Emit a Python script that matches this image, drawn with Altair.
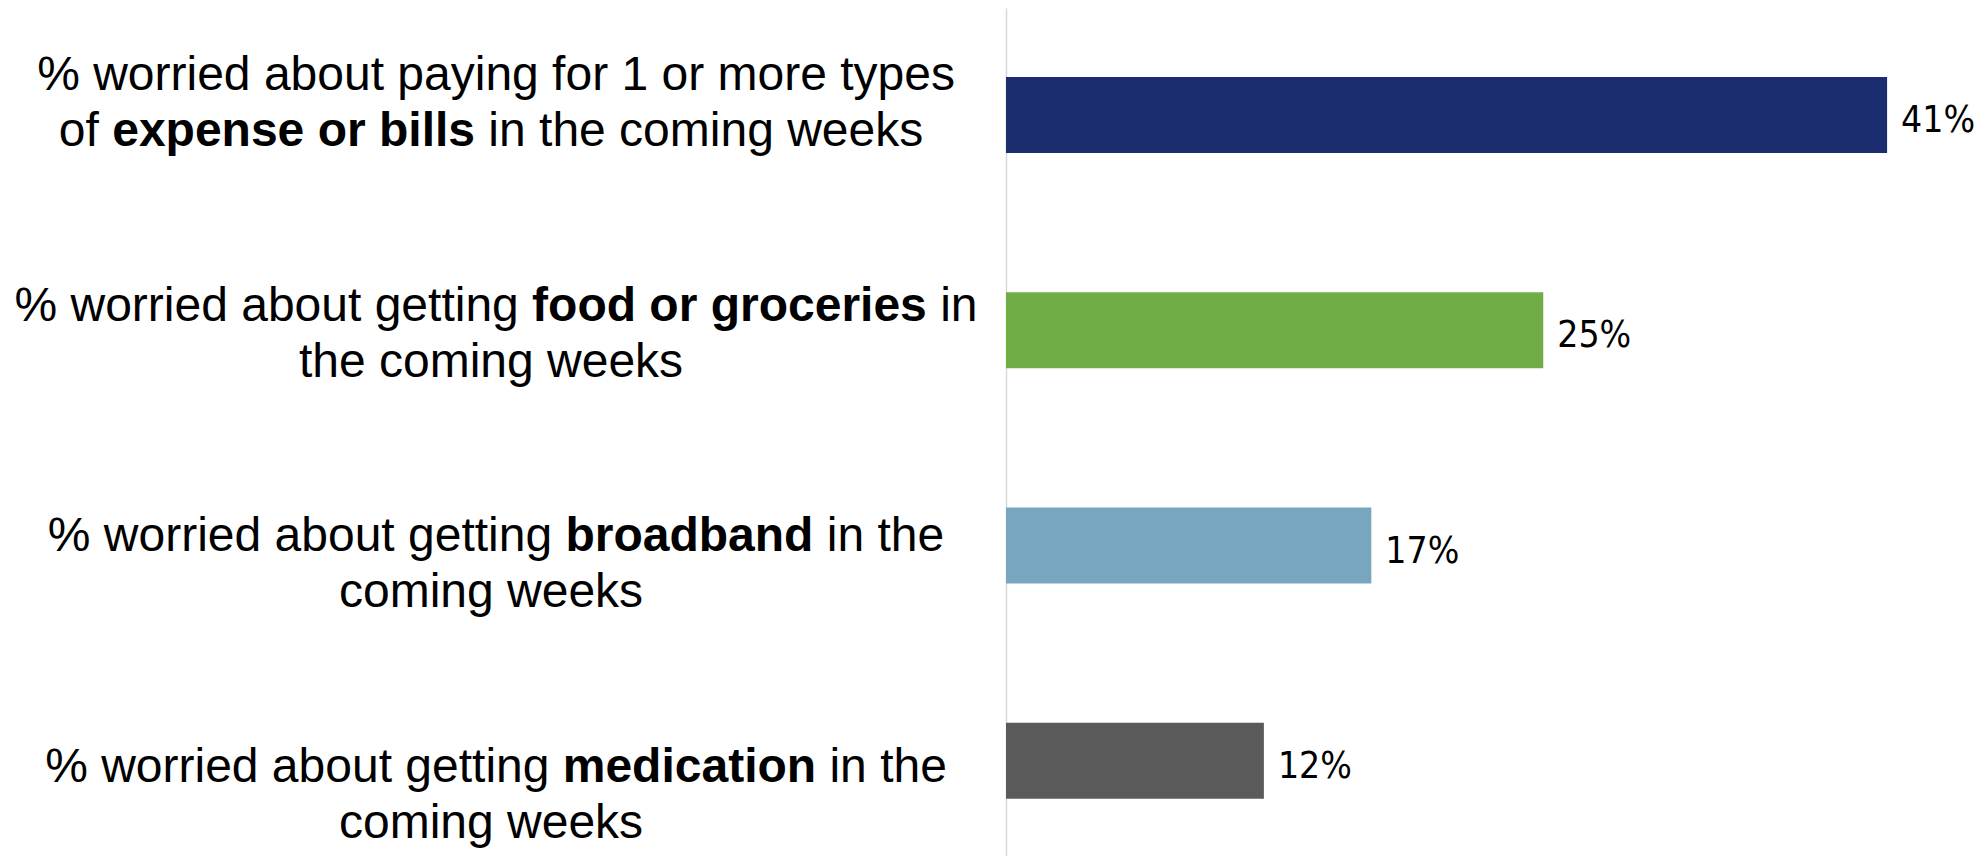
import altair as alt
import pandas as pd

# ---------------- data ----------------
CATEGORIES = ["Expense or bills", "Food or groceries", "Broadband", "Medication"]
VALUES = [41, 25, 17, 12]
BAR_COLORS = ["#1B2C6F", "#71AD47", "#79A6BF", "#5A5A5B"]
LABEL_LINES = [
    [[("% worried about paying for 1 or more types", False)],
     [("of ", False), ("expense or bills", True), (" in the coming weeks", False)]],
    [[("% worried about getting ", False), ("food or groceries", True), (" in", False)],
     [("the coming weeks", False)]],
    [[("% worried about getting ", False), ("broadband", True), (" in the", False)],
     [("coming weeks", False)]],
    [[("% worried about getting ", False), ("medication", True), (" in the", False)],
     [("coming weeks", False)]],
]

# ---------------- layout ----------------
LEFT_W = 998
RIGHT_W = 968
H = 848
LABEL_FONT = "Liberation Sans, Arial, Helvetica, sans-serif"
LABEL_SIZE = 48
LINE_GAP = 56
LINE_CENTERS = [488, 483]
PX_PER_UNIT = 21.49

# Arial / Liberation Sans advance widths (per 1000 em)
REG = {" ": 278, "%": 889, "1": 556, "a": 556, "b": 556, "c": 500, "d": 556, "e": 556,
       "f": 278, "g": 556, "h": 556, "i": 222, "k": 500, "l": 222, "m": 833, "n": 556,
       "o": 556, "p": 556, "r": 333, "s": 500, "t": 278, "u": 556, "w": 722, "y": 500,
       "x": 500}
BOLD = {" ": 278, "a": 556, "b": 611, "c": 556, "d": 611, "e": 556, "f": 333, "g": 611,
        "i": 278, "l": 278, "m": 889, "n": 611, "o": 611, "p": 611, "r": 389, "s": 556,
        "t": 333, "x": 556}


def seg_width(text, bold):
    table = BOLD if bold else REG
    return sum(table.get(ch, 556) for ch in text) * LABEL_SIZE / 1000.0


rows = []
for cat, lines in zip(CATEGORIES, LABEL_LINES):
    for li, segs in enumerate(lines):
        total = sum(seg_width(t, b) for t, b in segs)
        x = LINE_CENTERS[li] - total / 2.0
        for t, b in segs:
            lead = len(t) - len(t.lstrip(" "))
            shown = t.strip(" ")
            rows.append({"cat": cat, "line": li, "text": shown, "bold": b,
                         "px": x + seg_width(" " * lead, b)})
            x += seg_width(t, b)
seg_df = pd.DataFrame(rows)

bar_df = pd.DataFrame({"cat": CATEGORIES, "value": VALUES})
bar_df["label"] = [f"{v}%" for v in VALUES]

# ---------------- left panel: labels ----------------
label_y = alt.Y("cat:N", scale=alt.Scale(type="point", domain=CATEGORIES,
                                         padding=0.3379, align=0.526), axis=None)
label_x = alt.X("px:Q", scale=alt.Scale(domain=[0, LEFT_W], nice=False, zero=False),
                axis=None)

layers = []
for li in (0, 1):
    for b in (False, True):
        sub = seg_df[(seg_df["line"] == li) & (seg_df["bold"] == b)]
        if len(sub) == 0:
            continue
        layers.append(
            alt.Chart(sub).mark_text(
                align="left", baseline="alphabetic", font=LABEL_FONT,
                fontSize=LABEL_SIZE, fontWeight="bold" if b else "normal",
                color="#000000", dy=LINE_GAP * li
            ).encode(x=label_x, y=label_y, text="text:N")
        )
left = alt.layer(*layers).properties(width=LEFT_W, height=H)

# ---------------- right panel: bars ----------------
bar_y = alt.Y("cat:N", sort=CATEGORIES,
              scale=alt.Scale(domain=CATEGORIES, paddingInner=0.647,
                              paddingOuter=0.2929, align=0.547),
              axis=alt.Axis(labels=False, ticks=False, title=None, grid=False,
                            domainColor="#D9D9D9", domainWidth=1.5))
bar_x = alt.X("value:Q", scale=alt.Scale(domain=[0, RIGHT_W / PX_PER_UNIT], nice=False),
              axis=None)

bars = alt.Chart(bar_df).mark_bar().encode(
    x=bar_x, y=bar_y,
    color=alt.Color("cat:N", scale=alt.Scale(domain=CATEGORIES, range=BAR_COLORS),
                    legend=None),
)
values = alt.Chart(bar_df).mark_text(
    align="left", baseline="alphabetic", dx=14, dy=17,
    font="DejaVu Sans Condensed, DejaVu Sans, sans-serif", fontSize=37, color="#000000"
).encode(x=bar_x, y=bar_y, text="label:N")

right = alt.layer(bars, values).properties(width=RIGHT_W, height=H)

chart = alt.hconcat(
    left, right, spacing=0, padding=0, background="#FFFFFF"
).configure_view(stroke=None)

chart.save("out.html", embed_options={"renderer": "svg", "actions": False})
